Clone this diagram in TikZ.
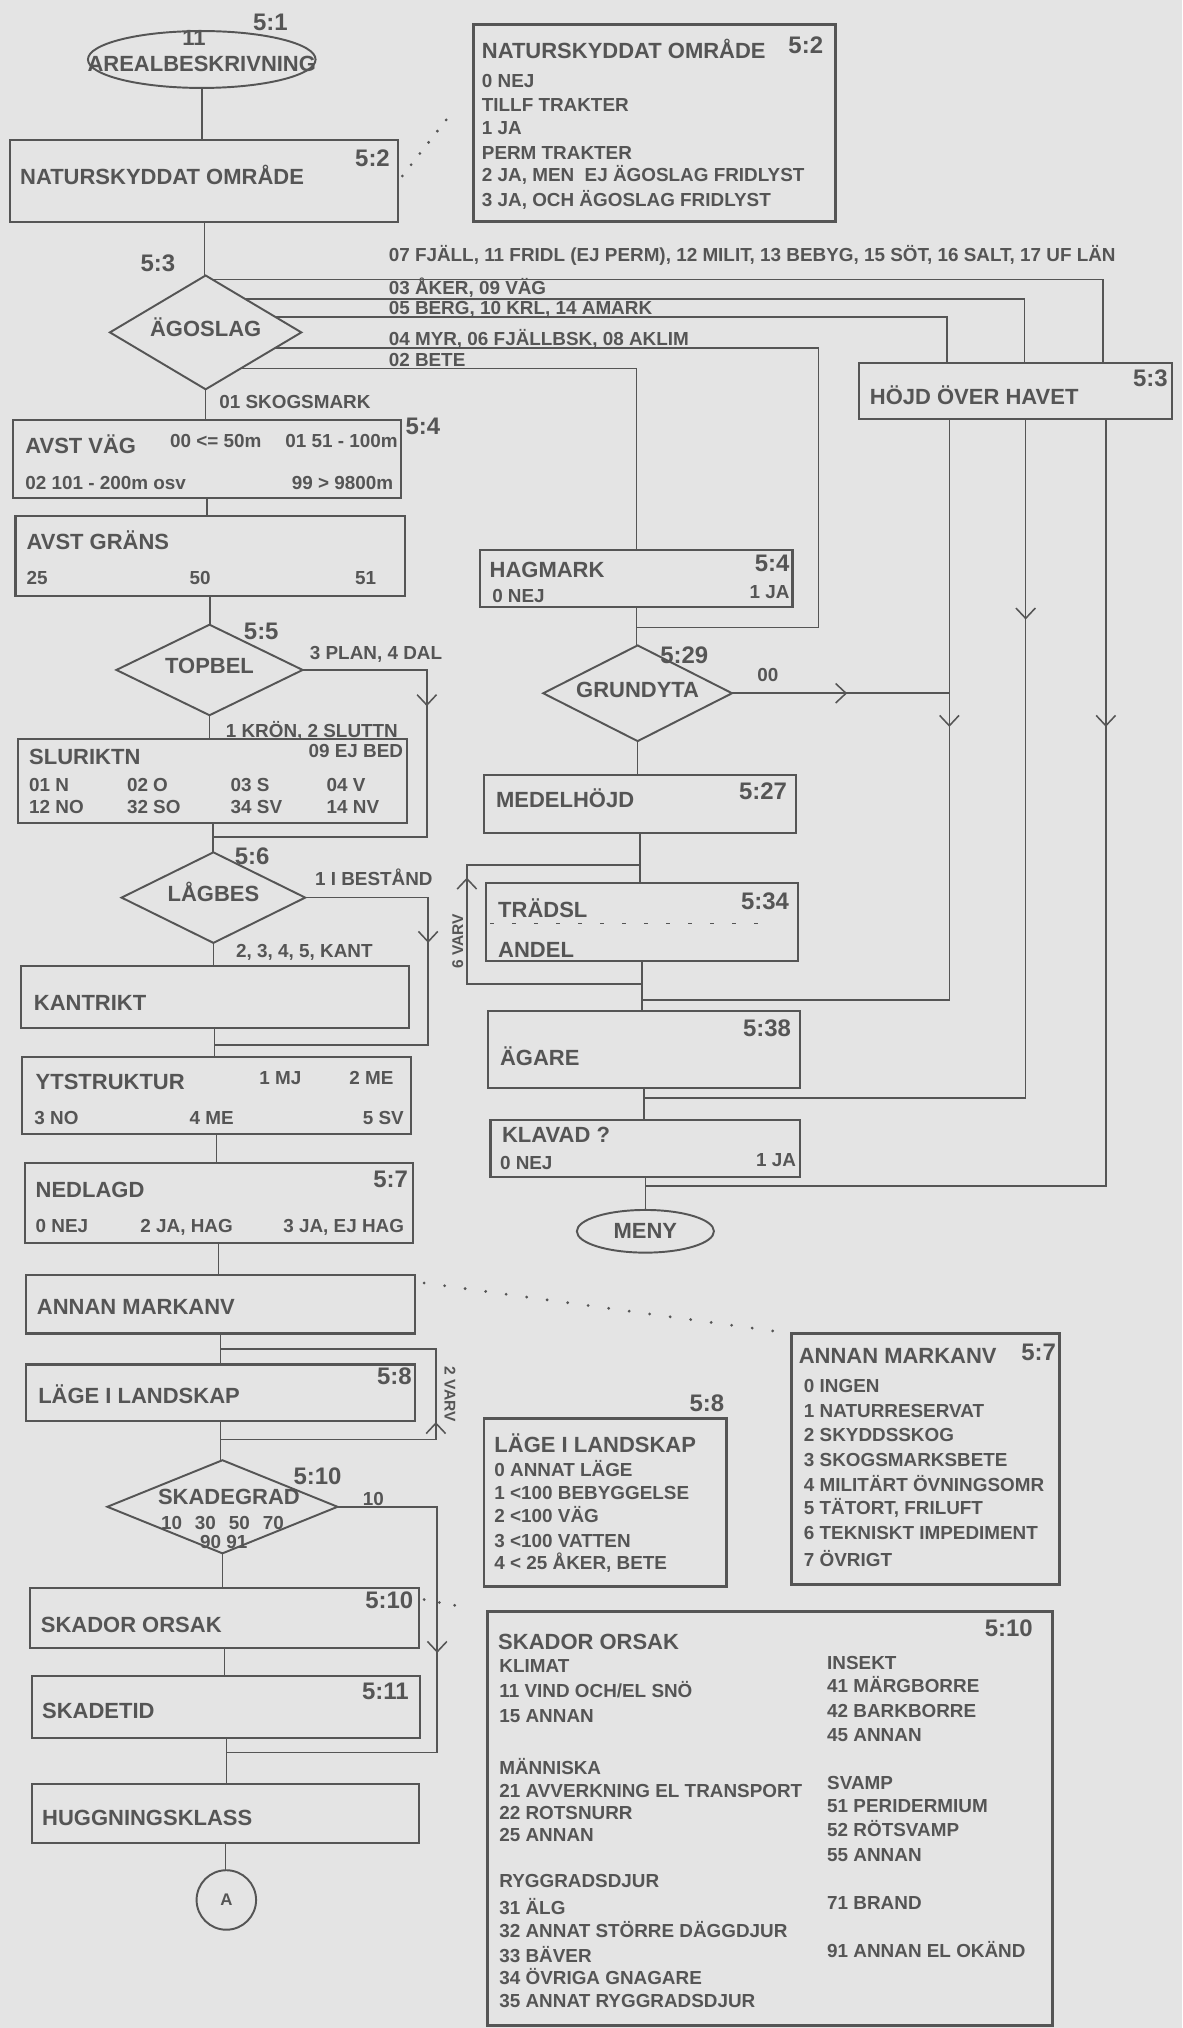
\documentclass[tikz,border=0pt]{standalone}
\usepackage{fontspec}
\setmainfont{Liberation Sans}
\usetikzlibrary{shapes.geometric,calc,arrows.meta,decorations.markings}
\definecolor{paper}{HTML}{E4E4E4}
\definecolor{ink}{HTML}{555555}
\newcommand\fbig{\fontsize{17}{19}\selectfont\bfseries}
\newcommand\fref{\fontsize{18.5}{21}\selectfont\bfseries}
\newcommand\fopt{\fontsize{14.6}{16}\selectfont\bfseries}
\newcommand\fvarv{\fontsize{12}{14}\selectfont\bfseries}

\begin{document}
\begin{tikzpicture}
[x=1pt,y=-1pt,color=ink,line width=1.2pt,%
  box/.style={draw,rectangle,line width=1.6pt,inner sep=0pt,outer sep=0pt},%
  pop/.style={box,line width=2.1pt},%
  dia/.style={draw,diamond,shape aspect=2,line width=1.5pt,inner sep=0pt,outer sep=0pt,%
    font=\fbig,text height=11.8pt,text depth=6pt},%
  oval/.style={draw,ellipse,line width=1.5pt,inner sep=0pt,outer sep=0pt},%
  endc/.style={draw,circle,line width=1.5pt,inner sep=0pt,outer sep=0pt},%
  lbl/.style={anchor=base west,inner sep=0pt,font=\fbig},%
  opt/.style={anchor=base west,inner sep=0pt,font=\fopt},%
  ref/.style={inner sep=0pt,font=\fref},%
  varv/.style={inner sep=0pt,font=\fvarv},%
  dotline/.style={line width=2.4pt,line cap=round,dash pattern=on 0pt off 16pt},%
  chev/.style={postaction={decorate},decoration={markings,%
    mark=at position #1 with {\arrow{Straight Barb[length=8pt,width=15pt]}}}}]
\fill[paper] (0,0) rectangle (914,1568);
\useasboundingbox (0,0) rectangle (914,1568);

% left column
\node[oval,minimum width=176pt,minimum height=44pt] (areal) at (156,46) {};
\node[box,minimum width=300pt,minimum height=64pt] (natur) at (158,140) {};
\node[dia,minimum width=148pt,minimum height=88pt] (ago) at (159,257) {ÄGOSLAG};
\node[box,minimum width=300pt,minimum height=60pt] (avstvag) at (160,355) {};
\node[box,minimum width=301pt,minimum height=62pt] (avstgrans) at (162.5,430) {};
\node[dia,minimum width=144pt,minimum height=70pt] (topbel) at (162,518) {TOPBEL};
\node[box,minimum width=301pt,minimum height=65pt] (sluriktn) at (164.5,604) {};
\node[dia,minimum width=142pt,minimum height=70pt] (lagbes) at (165,694) {LÅGBES};
\node[box,minimum width=300pt,minimum height=48pt] (kantrikt) at (166,771) {};
\node[box,minimum width=301pt,minimum height=60pt] (ytstr) at (167.5,847) {};
\node[box,minimum width=300pt,minimum height=62pt] (nedlagd) at (169,930) {};
\node[box,minimum width=301pt,minimum height=45pt] (annan) at (170.5,1008.5) {};
\node[box,minimum width=301pt,minimum height=44pt] (lage) at (170.5,1077) {};
\node[dia,minimum width=178pt,minimum height=72pt] (skadeg) at (172,1165) {};
\node[box,minimum width=301pt,minimum height=46pt] (skador) at (173.5,1251) {};
\node[box,minimum width=300pt,minimum height=48pt] (skadetid) at (175,1320) {};
\node[box,minimum width=299pt,minimum height=46pt] (hugg) at (174.5,1402) {};
\node[endc,minimum size=46pt,font=\fontsize{13}{15}\selectfont\bfseries] (conA) at (175,1469) {A};

% right column
\node[box,minimum width=242pt,minimum height=43pt] (hojd) at (785,302.5) {};
\node[box,minimum width=241.5pt,minimum height=44pt] (hagmark) at (492,447) {};
\node[dia,minimum width=146pt,minimum height=74pt] (grund) at (493,536) {GRUNDYTA};
\node[box,minimum width=241.5pt,minimum height=45pt] (medel) at (495,621.5) {};
\node[box,minimum width=241pt,minimum height=60pt] (tradsl) at (496.5,713) {};
\node[box,minimum width=241.5pt,minimum height=59pt] (agare) at (498,811.5) {};
\node[box,minimum width=239.5pt,minimum height=44pt] (klavad) at (499,888) {};
\node[oval,minimum width=106pt,minimum height=33pt,font=\fbig] (meny) at (499,952) {MENY};

% code lists
\node[pop,minimum width=280pt,minimum height=152pt] (natpop) at (506,95) {};
\node[pop,minimum width=207pt,minimum height=194pt] (annpop) at (715.5,1128) {};
\node[pop,minimum width=187.5pt,minimum height=130pt] (lagepop) at (468,1161.5) {};
\node[pop,minimum width=437pt,minimum height=320pt] (skadpop) at (595.5,1406) {};

% main flow
\draw (areal.south) -- (areal.south |- natur.north);
\draw (natur.south) -- (natur.south |- ago.north);
\draw (ago.south) -- (ago.south |- avstvag.north);
\draw (avstvag.south) -- (avstvag.south |- avstgrans.north);
\draw (avstgrans.south) -- (avstgrans.south |- topbel.north);
\draw (topbel.south) -- (topbel.south |- sluriktn.north);
\draw (sluriktn.south) -- (sluriktn.south |- lagbes.north);
\draw (lagbes.south) -- (lagbes.south |- kantrikt.north);
\draw (kantrikt.south) -- (kantrikt.south |- ytstr.north);
\draw (ytstr.south) -- (ytstr.south |- nedlagd.north);
\draw (nedlagd.south) -- (nedlagd.south |- annan.north);
\draw (annan.south) -- (annan.south |- lage.north);
\draw (lage.south) -- (lage.south |- skadeg.north);
\draw (skadeg.south) -- (skadeg.south |- skador.north);
\draw (skador.south) -- (skador.south |- skadetid.north);
\draw (skadetid.south) -- (skadetid.south |- hugg.north);
\draw (hugg.south) -- (hugg.south |- conA.north);
\draw (hagmark.south) -- (hagmark.south |- grund.north);
\draw (grund.south) -- (grund.south |- medel.north);
\draw (medel.south) -- (medel.south |- tradsl.north);
\draw (tradsl.south) -- (tradsl.south |- agare.north);
\draw (agare.south) -- (agare.south |- klavad.north);
\draw (klavad.south) -- (klavad.south |- meny.north);

% branches from ÄGOSLAG
\coordinate (j4) at (633,485);
\draw ($(ago.north)!.068!(ago.east)$) -| ([xshift=68pt]hojd.north);
\draw ($(ago.north)!.409!(ago.east)$) -| ([xshift=7pt]hojd.north);
\draw ($(ago.north)!.727!(ago.east)$) -| ([xshift=-53pt]hojd.north);
\draw ($(ago.east)!.273!(ago.south)$) -| (j4) -- (j4 -| hagmark.south);
\draw ($(ago.east)!.636!(ago.south)$) -| (hagmark.north);

% side branches and loops
\coordinate (t55) at (330,647);
\coordinate (t56) at (331,808);
\coordinate (t510) at (338,1355);
\coordinate (v2a) at (337,1043);
\coordinate (v2b) at (337,1113);
\coordinate (v6a) at (361,669);
\coordinate (v6b) at (361,761);
\draw[chev=124pt] (topbel.east) -| (t55) -- (t55 -| sluriktn.south);
\draw[chev=130pt] (lagbes.east) -| (t56) -- (t56 -| kantrikt.south);
\draw[chev=190pt] (skadeg.east) -| (t510) -- (t510 -| skadetid.south);
\draw[chev=180pt] (v2b -| lage.south) -- (v2b) -- (v2a) -- (v2a -| annan.south);
\draw[chev=218pt] (v6b -| tradsl.south) -- (v6b) -- (v6a) -- (v6a -| medel.south);

% from HÖJD ÖVER HAVET
\coordinate (hl) at (734,773);
\coordinate (hm) at (793,849);
\coordinate (hr) at (855,917);
\draw[chev=238pt] (hojd.south -| hl) -- (hl) -- (hl -| tradsl.south);
\draw[chev=155pt] (hojd.south -| hm) -- (hm) -- (hm -| agare.south);
\draw[chev=238pt] (hojd.south -| hr) -- (hr) -- (hr -| klavad.south);
\draw[chev=89pt] (grund.east) -- (grund.east -| hl);

% leaders to the code lists
\draw[dotline,dash pattern=on 0pt off 11pt,shorten <=5pt] (natur.east) -- ([xshift=-15pt,yshift=10pt]natpop.west);
\draw[dotline,shorten <=7pt,shorten >=14pt] ([yshift=-5pt]annan.north east) -- (annpop.north west);
\draw[dotline,dash pattern=on 0pt off 12pt,shorten <=4pt,shorten >=14pt] ([yshift=-8pt]skador.north east) -- (skadpop.north west);
\draw[line width=1.3pt,dash pattern=on 3pt off 14pt] ([xshift=3pt,yshift=-1pt]tradsl.west) -- ([xshift=-18pt,yshift=-1pt]tradsl.east);

% texts, left column
\node[ref] (r51) at (209,17) {5:1};
\node[lbl,anchor=base] (n11) at (150,35.5) {11};
\node[lbl,anchor=base] (arealt) at (156,55) {AREALBESKRIVNING};
\node[lbl] (naturt) at (15,143) {NATURSKYDDAT OMRÅDE};
\node[ref] (r52) at (288,122.4) {5:2};
\node[ref] (r53) at (122,203.6) {5:3};
\node[opt] (b1) at (300,202) {07 FJÄLL, 11 FRIDL (EJ PERM), 12 MILIT, 13 BEBYG, 15 SÖT, 16 SALT, 17 UF LÄN};
\node[opt] (b2) at (300,227.5) {03 ÅKER, 09 VÄG};
\node[opt] (b3) at (300,243.5) {05 BERG, 10 KRL, 14 AMARK};
\node[opt] (b4) at (300,267) {04 MYR, 06 FJÄLLBSK, 08 AKLIM};
\node[opt] (b5) at (300,283) {02 BETE};
\node[opt] (skog) at (169,315.5) {01 SKOGSMARK};
\node[lbl] (avstvagt) at (19,351) {AVST VÄG};
\node[ref] (r54) at (327,329.3) {5:4};
\node[opt] (av1) at (131,346) {00 <= 50m};
\node[opt] (av2) at (220,346) {01 51 - 100m};
\node[opt] (av3) at (19,378.6) {02 101 - 200m osv};
\node[opt] (av4) at (225,378.6) {99 > 9800m};
\node[lbl] (granst) at (20,425) {AVST GRÄNS};
\node[opt] (g25) at (20,452) {25};
\node[opt] (g50) at (146,452) {50};
\node[opt] (g51) at (274,452) {51};
\node[ref] (r55) at (202,488.3) {5:5};
\node[opt] (plan) at (239,510) {3 PLAN, 4 DAL};
\node[opt] (kron) at (174,570) {1 KRÖN, 2 SLUTTN};
\node[lbl] (slurt) at (22,591) {SLURIKTN};
\node[opt] (sl0) at (238,586) {09 EJ BED};
\node[opt] (sl1) at (22,612) {01 N};
\node[opt] (sl2) at (97.6,612) {02 O};
\node[opt] (sl3) at (177.8,612) {03 S};
\node[opt] (sl4) at (252,612) {04 V};
\node[opt] (sl5) at (22,629.3) {12 NO};
\node[opt] (sl6) at (97.6,629.3) {32 SO};
\node[opt] (sl7) at (177.8,629.3) {34 SV};
\node[opt] (sl8) at (252,629.3) {14 NV};
\node[ref] (r56) at (195,662.2) {5:6};
\node[opt] (best) at (243,685) {1 I BESTÅND};
\node[opt] (kantb) at (182,740.6) {2, 3, 4, 5, KANT};
\node[lbl] (kantt) at (25.6,781.5) {KANTRIKT};
\node[lbl] (ytst) at (27,842) {YTSTRUKTUR};
\node[opt] (y1) at (200,838.6) {1 MJ};
\node[opt] (y2) at (269.5,838.6) {2 ME};
\node[opt] (y3) at (26,869.5) {3 NO};
\node[opt] (y4) at (146,869.5) {4 ME};
\node[opt] (y5) at (280,869.5) {5 SV};
\node[lbl] (nedt) at (27,926) {NEDLAGD};
\node[ref] (r57) at (302,912.2) {5:7};
\node[opt] (ne0) at (27,953.3) {0 NEJ};
\node[opt] (ne2) at (108,953.3) {2 JA, HAG};
\node[opt] (ne3) at (218.5,953.3) {3 JA, EJ HAG};
\node[lbl] (annant) at (28,1016) {ANNAN MARKANV};
\node[lbl] (laget) at (29,1085.5) {LÄGE I LANDSKAP};
\node[ref] (r58) at (305,1064) {5:8};
\node[varv,rotate=-90] (varv2) at (348,1078) {2 VARV};
\node[ref] (r510) at (245.5,1141.5) {5:10};
\node[lbl,anchor=base] (skadegt) at (177,1163) {SKADEGRAD};
\node[opt,anchor=base] (skadeg1) at (172,1182.6) {10\hspace{10pt}30\hspace{10pt}50\hspace{10pt}70};
\node[opt,anchor=base] (skadeg2) at (173,1197) {90 91};
\node[opt] (s10) at (280,1164) {10};
\node[lbl] (skadort) at (31,1262) {SKADOR ORSAK};
\node[ref] (r510b) at (301,1237) {5:10};
\node[lbl] (skadetidt) at (32,1329) {SKADETID};
\node[ref] (r511) at (298,1308) {5:11};
\node[lbl] (huggt) at (32,1411.5) {HUGGNINGSKLASS};

% texts, right column
\node[lbl] (hojdt) at (672,312.5) {HÖJD ÖVER HAVET};
\node[ref] (r53b) at (889.5,292.4) {5:3};
\node[lbl] (hagt) at (378,446.5) {HAGMARK};
\node[ref] (r54b) at (597,435.5) {5:4};
\node[opt] (hag0) at (380,466) {0 NEJ};
\node[opt] (hag1) at (579,462.4) {1 JA};
\node[ref] (r529) at (529,506.3) {5:29};
\node[opt] (g00) at (585,527) {00};
\node[lbl] (medelt) at (383,624.4) {MEDELHÖJD};
\node[ref] (r527) at (590,612) {5:27};
\node[lbl] (tradt) at (384.6,709.4) {TRÄDSL};
\node[lbl] (andelt) at (384.6,740.3) {ANDEL};
\node[ref] (r534) at (591.5,697) {5:34};
\node[varv,rotate=90] (varv6) at (354,728) {6 VARV};
\node[lbl] (agaret) at (386,824) {ÄGARE};
\node[ref] (r538) at (593,795) {5:38};
\node[lbl] (klavt) at (387.6,883.4) {KLAVAD ?};
\node[opt] (kl0) at (386,904.3) {0 NEJ};
\node[opt] (kl1) at (584,901.7) {1 JA};

% NATURSKYDDAT OMRÅDE list
\node[lbl] (natpopt) at (372,45) {NATURSKYDDAT OMRÅDE};
\node[ref] (r52b) at (623,35) {5:2};
\node[opt] (np0) at (372,68) {0 NEJ};
\node[opt] (np1) at (372,86.2) {TILLF TRAKTER};
\node[opt] (np2) at (372,104.2) {1 JA};
\node[opt] (np3) at (372,123.5) {PERM TRAKTER};
\node[opt] (np4) at (372,140.3) {2 JA, MEN\ \ EJ ÄGOSLAG FRIDLYST};
\node[opt] (np5) at (372,159.6) {3 JA, OCH ÄGOSLAG FRIDLYST};

% ANNAN MARKANV list
\node[lbl] (annpopt) at (617,1054) {ANNAN MARKANV};
\node[ref] (r57b) at (803,1046) {5:7};
\node[opt] (am0) at (621,1077) {0 INGEN};
\node[opt] (am1) at (621,1096.2) {1 NATURRESERVAT};
\node[opt] (am2) at (621,1114.3) {2 SKYDDSSKOG};
\node[opt] (am3) at (621,1133.6) {3 SKOGSMARKSBETE};
\node[opt] (am4) at (621,1152.9) {4 MILITÄRT ÖVNINGSOMR};
\node[opt] (am5) at (621,1171) {5 TÄTORT, FRILUFT};
\node[opt] (am6) at (621,1190.3) {6 TEKNISKT IMPEDIMENT};
\node[opt] (am7) at (621,1211) {7 ÖVRIGT};

% LÄGE I LANDSKAP list
\node[ref] (r58b) at (546.5,1085) {5:8};
\node[lbl] (lagepopt) at (381.7,1123) {LÄGE I LANDSKAP};
\node[opt] (ll0) at (381.7,1141.3) {0 ANNAT LÄGE};
\node[opt] (ll1) at (381.7,1159.4) {1 <100 BEBYGGELSE};
\node[opt] (ll2) at (381.7,1177.4) {2 <100 VÄG};
\node[opt] (ll3) at (381.7,1196.8) {3 <100 VATTEN};
\node[opt] (ll4) at (381.7,1213.5) {4 < 25 ÅKER, BETE};

% SKADOR ORSAK list
\node[lbl] (skadpopt) at (384.6,1275) {SKADOR ORSAK};
\node[ref] (r510c) at (780,1259) {5:10};
\node[opt] (so1) at (385.5,1293.4) {KLIMAT};
\node[opt] (so2) at (385.5,1312.5) {11 VIND OCH/EL SNÖ};
\node[opt] (so3) at (385.5,1332) {15 ANNAN};
\node[opt] (so4) at (385.5,1372) {MÄNNISKA};
\node[opt] (so5) at (385.5,1390) {21 AVVERKNING EL TRANSPORT};
\node[opt] (so6) at (385.5,1406.7) {22 ROTSNURR};
\node[opt] (so7) at (385.5,1423.5) {25 ANNAN};
\node[opt] (so8) at (385.5,1459.6) {RYGGRADSDJUR};
\node[opt] (so9) at (385.5,1480.2) {31 ÄLG};
\node[opt] (so10) at (385.5,1498.2) {32 ANNAT STÖRRE DÄGGDJUR};
\node[opt] (so11) at (385.5,1517.6) {33 BÄVER};
\node[opt] (so12) at (385.5,1534.3) {34 ÖVRIGA GNAGARE};
\node[opt] (so13) at (385.5,1552.4) {35 ANNAT RYGGRADSDJUR};
\node[opt] (sr1) at (639,1290.8) {INSEKT};
\node[opt] (sr2) at (639,1308.8) {41 MÄRGBORRE};
\node[opt] (sr3) at (639,1328.2) {42 BARKBORRE};
\node[opt] (sr4) at (639,1346.2) {45 ANNAN};
\node[opt] (sr5) at (639,1383.6) {SVAMP};
\node[opt] (sr6) at (639,1401.6) {51 PERIDERMIUM};
\node[opt] (sr7) at (639,1419.6) {52 RÖTSVAMP};
\node[opt] (sr8) at (639,1439) {55 ANNAN};
\node[opt] (sr9) at (639,1476.3) {71 BRAND};
\node[opt] (sr10) at (639,1513.7) {91 ANNAN EL OKÄND};
\end{tikzpicture}
\end{document}
